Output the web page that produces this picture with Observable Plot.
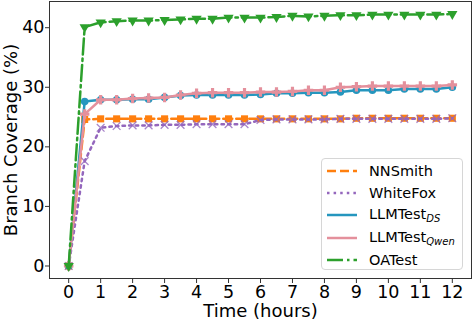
<!DOCTYPE html>
<html><head><meta charset="utf-8">
<script src="https://cdn.jsdelivr.net/npm/d3@7"></script>
<script src="https://cdn.jsdelivr.net/npm/@observablehq/plot@0.6"></script>
<style>
body{margin:0;background:#fff;font-family:"DejaVu Sans",sans-serif;}
#wrap{position:relative;width:474px;height:322px;}
#legend{position:absolute;left:321px;top:158px;width:142px;height:112px;border:1px solid #d6d6d6;border-radius:4px;background:rgba(255,255,255,0.85);box-sizing:border-box;}
.item{position:absolute;left:0;height:22px;display:flex;align-items:center;font-size:14.5px;color:#000;white-space:nowrap;}
.item svg{margin-left:4px;margin-right:11px;}
.item sub{font-style:italic;font-size:10px;vertical-align:-3px;}
</style></head><body><div id="wrap"><div id="legend"></div></div>
<script>
const hours = [0, 0.5, 1, 1.5, 2, 2.5, 3, 3.5, 4, 4.5, 5, 5.5, 6, 6.5, 7, 7.5, 8, 8.5, 9, 9.5, 10, 10.5, 11, 11.5, 12];
const nnsmith = [0, 24.6, 24.7, 24.7, 24.7, 24.7, 24.7, 24.7, 24.7, 24.7, 24.7, 24.7, 24.7, 24.7, 24.7, 24.7, 24.7, 24.7, 24.8, 24.8, 24.8, 24.8, 24.8, 24.8, 24.8];
const whitefox = [0, 17.6, 23.2, 23.5, 23.6, 23.6, 23.7, 23.7, 23.8, 23.8, 23.8, 23.8, 24.5, 24.6, 24.6, 24.6, 24.6, 24.7, 24.7, 24.7, 24.7, 24.7, 24.7, 24.7, 24.8];
const llmtestDS = [0, 27.6, 27.9, 27.9, 28.0, 28.0, 28.3, 28.6, 28.7, 28.7, 28.7, 28.7, 28.8, 29.0, 29.0, 29.1, 29.1, 29.2, 29.5, 29.5, 29.5, 29.7, 29.7, 29.7, 30.0];
const llmtestQwen = [0, 25.5, 27.9, 27.9, 28.1, 28.2, 28.3, 28.7, 29.0, 29.1, 29.1, 29.1, 29.2, 29.2, 29.3, 29.5, 29.5, 30.0, 30.1, 30.2, 30.2, 30.2, 30.2, 30.2, 30.4];
const oatest = [0, 40.1, 40.9, 41.1, 41.2, 41.2, 41.3, 41.4, 41.5, 41.5, 41.7, 41.7, 41.7, 41.8, 42.0, 41.9, 42.0, 42.1, 42.1, 42.2, 42.2, 42.2, 42.2, 42.2, 42.3];
const names = ["NNSmith", "WhiteFox", "LLMTest", "LLMTest", "OATest"];
const subs = ["", "", "DS", "Qwen", ""];
const colors = ["#ff7f0e", "#9467bd", "#2596be", "#e4909c", "#2ca02c"];
const dashes = ["9,4", "2.5,4.1", null, null, "16,4,2.5,4"];
const symbols = ["square", "times", "circle", "cross", "triangle"];
const xTicks = [0,1,2,3,4,5,6,7,8,9,10,11,12];
const yTicks = [0,10,20,30,40];

const seriesValues = [nnsmith, whitefox, llmtestDS, llmtestQwen, oatest];
const marks = [];
seriesValues.forEach((vals, i) => {
  const data = hours.map((h, j) => ({h, v: vals[j]}));
  marks.push(Plot.line(data, {x: "h", y: "v", stroke: colors[i], strokeWidth: 2.5, strokeDasharray: dashes[i] || undefined}));
  const sym = symbols[i];
  const opts = {x: "h", y: "v", symbol: () => sym};
  if (sym === "times") Object.assign(opts, {stroke: colors[i], fill: "none", strokeWidth: 1.3, r: 3.6, strokeOpacity: 0.8});
  else if (sym === "triangle") Object.assign(opts, {fill: colors[i], stroke: "none", r: 3.8, rotate: 180});
  else if (sym === "square") Object.assign(opts, {fill: colors[i], stroke: "none", r: 4.0});
  else if (sym === "cross") Object.assign(opts, {fill: colors[i], stroke: "none", r: 4.0});
  else Object.assign(opts, {fill: colors[i], stroke: "none", r: 3.8});
  marks.push(Plot.dot(data, opts));
});

const chart = Plot.plot({
  width: 474, height: 322,
  marginLeft: 49, marginRight: 3, marginTop: 1, marginBottom: 44,
  style: {fontFamily: "DejaVu Sans, sans-serif", background: "#fff", color: "#000"},
  x: {domain: [-0.6, 12.6]},
  y: {domain: [-2.1, 44.4]},
  marks: [
    ...marks,
    Plot.frame({stroke: "#333", strokeWidth: 1}),
    Plot.axisX({ticks: xTicks, tickSize: 5, tickPadding: 2, fontSize: 17.5, label: null, stroke: "#333", tickFormat: d => String(d)}),
    Plot.axisY({ticks: yTicks, tickSize: 4, tickPadding: 1, fontSize: 17.5, label: null, stroke: "#333", tickFormat: d => String(d)}),
    Plot.text(["Time (hours)"], {frameAnchor: "bottom", textAnchor: "middle", lineAnchor: "middle", dy: 33, fontSize: 18, fill: "#000"}),
    Plot.text(["Branch Coverage (%)"], {frameAnchor: "left", textAnchor: "middle", lineAnchor: "middle", dx: -38, rotate: -90, fontSize: 18, fill: "#000"})
  ]
});
document.getElementById("wrap").prepend(chart);

const legend = document.getElementById("legend");
names.forEach((n, i) => {
  const item = document.createElement("div");
  item.className = "item";
  item.style.top = (1 + i * 22.2) + "px";
  item.innerHTML = `<svg width="32" height="10"><line x1="1" y1="5" x2="31" y2="5" stroke="${colors[i]}" stroke-width="2.5" ${dashes[i] ? `stroke-dasharray="${dashes[i]}"` : ""}/></svg><span>${n}${subs[i] ? `<sub>${subs[i]}</sub>` : ""}</span>`;
  legend.appendChild(item);
});
</script></body></html>
